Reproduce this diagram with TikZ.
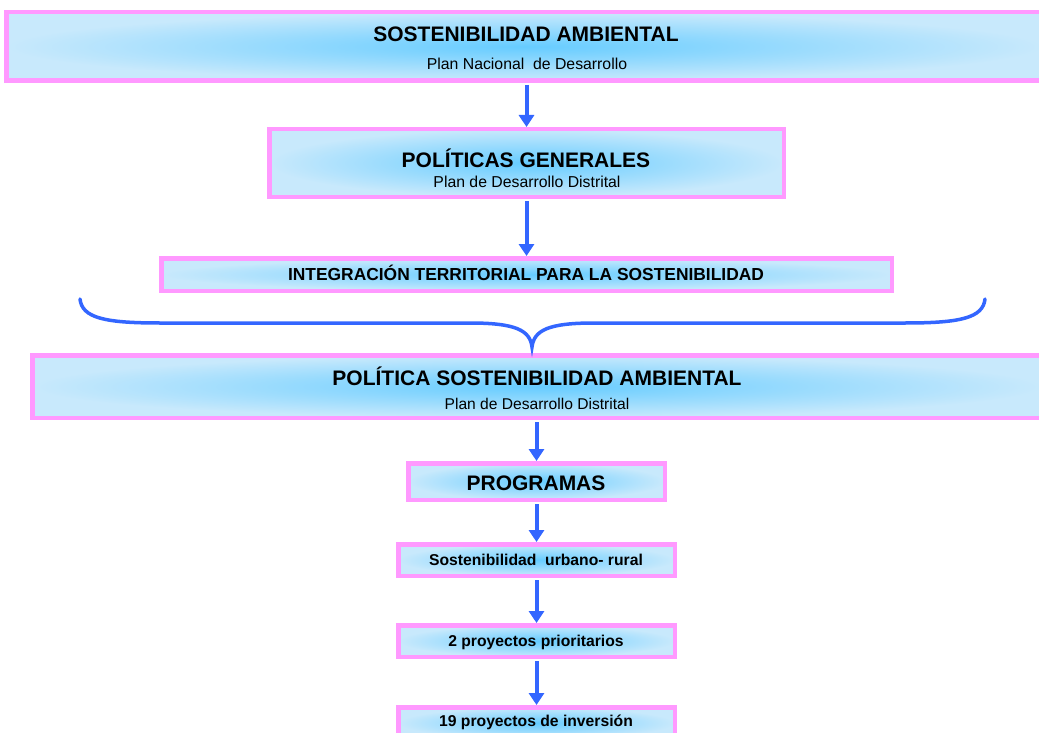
\documentclass[tikz,border=0pt]{standalone}
\usepackage{fontspec}
\setmainfont{Liberation Sans}
\usetikzlibrary{arrows.meta}
\definecolor{pinkc}{HTML}{FF99FF}
\definecolor{lightb}{HTML}{C8E9FC}
\definecolor{midb}{HTML}{66CCFF}
\definecolor{arrowb}{HTML}{3366FF}
\begin{document}
\begin{tikzpicture}[x=1pt,y=-1pt,
  box/.style={draw=pinkc, line width=4.5pt, inner color=midb, outer color=lightb, inner sep=0pt},
  conn/.style={draw=arrowb, line width=4pt, shorten <=2pt, -{Triangle[length=12pt,width=15pt]}},
  title/.style={font=\fontsize{21}{24}\selectfont\bfseries, inner sep=0pt},
  sub/.style={font=\fontsize{15.8}{18}\selectfont, inner sep=0pt},
  small/.style={font=\fontsize{15.7}{18}\selectfont\bfseries, inner sep=0pt}]
\clip (0,0) rectangle (1039,733);
\fill[white] (0,0) rectangle (1039,733);
% boxes
\node[box, minimum width=1036pt, minimum height=68.5pt] (b1) at (524.5,46.5) {};
\node[box, minimum width=514.5pt, minimum height=67.5pt] (b2) at (526.5,163) {};
\node[box, minimum width=730.5pt, minimum height=32.5pt] (b3) at (526.5,274.5) {};
\node[box, minimum width=1010.5pt, minimum height=62.5pt] (b4) at (537.5,386.5) {};
\node[box, minimum width=256.5pt, minimum height=36.5pt] (b5) at (536.5,481.5) {};
\node[box, minimum width=276.5pt, minimum height=31.5pt] (b6) at (536.5,560) {};
\node[box, minimum width=276.5pt, minimum height=31.5pt] (b7) at (536.5,641) {};
\node[box, minimum width=276.5pt, minimum height=31.5pt] (b8) at (536.5,723) {};
% texts
\node[title] (t1) at (526,34) {SOSTENIBILIDAD AMBIENTAL};
\node[sub] (s1) at (527,64) {Plan Nacional\ \ de Desarrollo};
\node[title] (t2) at (526,158) {POLÍTICAS GENERALES};
\node[sub] (s2) at (527,182) {Plan de Desarrollo Distrital};
\node[title, font=\fontsize{17.4}{20}\selectfont\bfseries] (t3) at (526,273) {INTEGRACIÓN TERRITORIAL PARA LA SOSTENIBILIDAD};
\node[title] (t4) at (537,376) {POLÍTICA SOSTENIBILIDAD AMBIENTAL};
\node[sub, font=\fontsize{15.6}{18}\selectfont] (s4) at (537,404) {Plan de Desarrollo Distrital};
\node[title] (t5) at (536,483) {PROGRAMAS};
\node[small] (t6) at (536,560) {Sostenibilidad\ \ urbano- rural};
\node[small] (t7) at (536,642) {2 proyectos prioritarios};
\node[small] (t8) at (536,722) {19 proyectos de inversión};
% connectors
\draw[conn] (b1.south -| b2.north) -- (b2.north);
\draw[conn] (b2.south) -- (b3.north);
\draw[conn] (b4.south -| b5.north) -- (b5.north);
\draw[conn] (b5.south) -- (b6.north);
\draw[conn] (b6.south) -- (b7.north);
\draw[conn] (b7.south) -- (b8.north);
% brace
\coordinate (bl) at (80,299);
\coordinate (br) at (985,299);
\coordinate (bt) at (532,347);
\draw[arrowb, line width=3.5pt, line cap=round]
  (bl) .. controls (82,318) and (105,323) .. (160,323) -- (470,323)
  .. controls (515,323) and (530,330) .. (bt)
  .. controls (534,330) and (549,323) .. (594,323) -- (905,323)
  .. controls (960,323) and (983,318) .. (br);
\end{tikzpicture}
\end{document}
